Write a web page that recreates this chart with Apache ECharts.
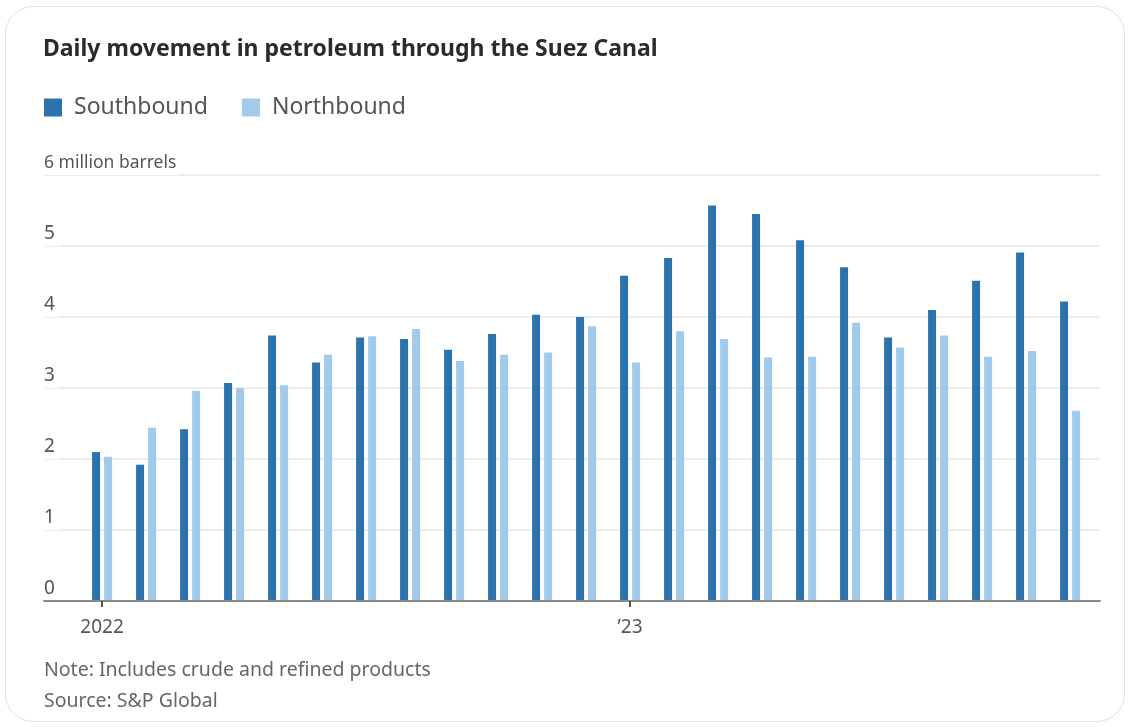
<!DOCTYPE html>
<html>
<head>
<meta charset="utf-8">
<script src="https://cdn.jsdelivr.net/npm/echarts@6/dist/echarts.min.js"></script>
<style>
  html, body { margin: 0; padding: 0; background: #fff; }
  #card {
    position: absolute; left: 5px; top: 6px; width: 1120px; height: 716px;
    border: 1.5px solid #dce3ea; border-radius: 28px; box-sizing: border-box;
  }
  #chart { position: absolute; left: 0; top: 0; width: 1130px; height: 727px; }
</style>
</head>
<body>
<div id="card"></div>
<div id="chart"></div>
<script>
// Monthly averages, million barrels per day
const months = [
  '2022-01','2022-02','2022-03','2022-04','2022-05','2022-06',
  '2022-07','2022-08','2022-09','2022-10','2022-11','2022-12',
  '2023-01','2023-02','2023-03','2023-04','2023-05','2023-06',
  '2023-07','2023-08','2023-09','2023-10','2023-11'
];
const southbound = [
  2.10, 1.92, 2.42, 3.07, 3.74, 3.36, 3.71, 3.69, 3.54, 3.76, 4.03, 4.00,
  4.58, 4.83, 5.57, 5.45, 5.08, 4.70, 3.71, 4.10, 4.51, 4.91, 4.22
];
const northbound = [
  2.03, 2.44, 2.96, 3.00, 3.04, 3.47, 3.73, 3.83, 3.38, 3.47, 3.50, 3.87,
  3.36, 3.80, 3.69, 3.43, 3.44, 3.92, 3.57, 3.74, 3.44, 3.52, 2.68
];
// Year marks on the time axis (index into months)
const yearTickIndex = [0, 12];
const yearTickLabels = ['2022', '\u201923'];
const yTicks = [0, 1, 2, 3, 4, 5, 6];
const yUnitLabel = '6 million barrels';

const FONT = '"Noto Sans", "Open Sans", sans-serif';
const toPoints = arr => arr.map((v, i) => [i, v]);

// y labels sit just above their gridline; a white box hides the line behind the text
function yLabel(v) {
  if (v === yTicks[yTicks.length - 1]) return '{u|' + yUnitLabel + '}';
  if (v === 0) return '{z|0}';
  return '{n|' + v + '}';
}

const chart = echarts.init(document.getElementById('chart'), null, { renderer: 'canvas' });
chart.setOption({
  animation: false,
  textStyle: { fontFamily: FONT },
  title: {
    text: 'Daily movement in petroleum through the Suez Canal',
    left: 43, top: 38, padding: 0,
    textStyle: { fontSize: 23, fontWeight: 'bold', color: '#2b2b2b', fontFamily: FONT }
  },
  legend: {
    left: 44, top: 96, padding: 0,
    icon: 'rect', itemWidth: 18, itemHeight: 18, itemGap: 34,
    textStyle: { fontSize: 23, color: '#555', padding: [0, 0, 0, 7], fontFamily: FONT },
    data: ['Southbound', 'Northbound']
  },
  grid: { left: 44, right: 30, top: 175, bottom: 126, containLabel: false },
  xAxis: {
    type: 'value',
    min: -1.32, max: 22.68,
    z: 3,
    splitLine: { show: false },
    axisLine: { show: true, onZero: false, lineStyle: { color: '#8a8a8a', width: 2 } },
    axisTick: {
      show: true, customValues: yearTickIndex, length: 6,
      lineStyle: { color: '#555', width: 2 }
    },
    axisLabel: {
      show: true, customValues: yearTickIndex, margin: 17,
      fontSize: 19, color: '#555', fontFamily: FONT,
      formatter: v => yearTickLabels[yearTickIndex.indexOf(v)] || ''
    }
  },
  yAxis: {
    type: 'value', min: 0, max: 6, interval: 1,
    axisLine: { show: false, onZero: false }, axisTick: { show: false },
    splitLine: { lineStyle: { color: '#e6e6e6', width: 1.5 } },
    axisLabel: {
      inside: true, margin: 0, align: 'left', verticalAlign: 'bottom',
      fontSize: 19, color: '#555', fontFamily: FONT,
      formatter: yLabel,
      rich: {
        n: { fontSize: 19, color: '#555', fontFamily: FONT, backgroundColor: '#fff', padding: [0, 4, 3, 0] },
        z: { fontSize: 19, color: '#555', fontFamily: FONT, padding: [0, 4, 3, 0] },
        u: { fontSize: 17.5, color: '#555', fontFamily: FONT, backgroundColor: '#fff', padding: [0, 4, 3, 0] }
      }
    },
    z: 1
  },
  series: [
    {
      name: 'Southbound', type: 'bar', data: toPoints(southbound),
      barWidth: 8, barGap: '50%',
      itemStyle: { color: '#2c72ad' }
    },
    {
      name: 'Northbound', type: 'bar', data: toPoints(northbound),
      barWidth: 8, barGap: '50%',
      itemStyle: { color: '#a2cbeb' }
    }
  ],
  graphic: [
    { type: 'text', left: 44, top: 660,
      style: { text: 'Note: Includes crude and refined products', fontSize: 19.5, fill: '#666', fontFamily: FONT } },
    { type: 'text', left: 44, top: 691,
      style: { text: 'Source: S&P Global', fontSize: 19.5, fill: '#666', fontFamily: FONT } }
  ]
});
</script>
</body>
</html>
